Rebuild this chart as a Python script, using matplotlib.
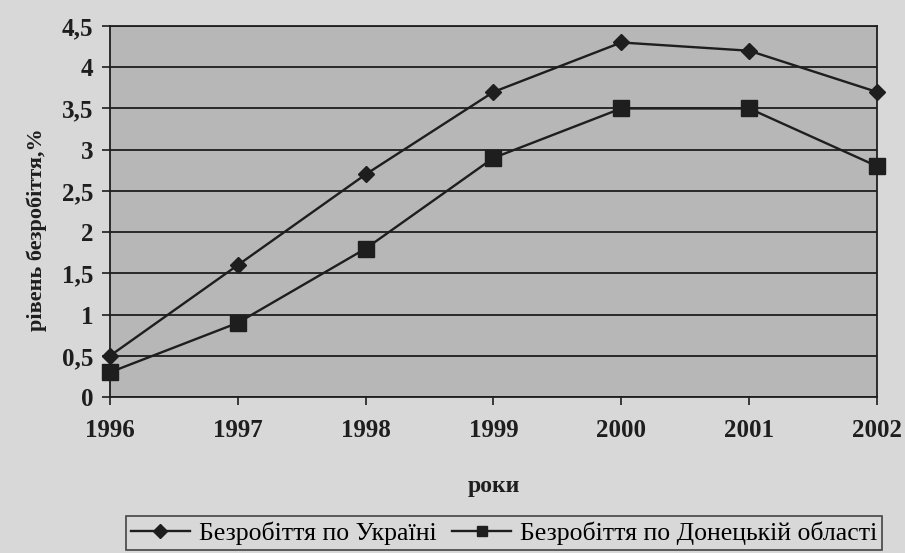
import matplotlib
matplotlib.use("Agg")
import matplotlib.pyplot as plt
from matplotlib.ticker import FuncFormatter, MultipleLocator

years = [1996, 1997, 1998, 1999, 2000, 2001, 2002]
ukraine = [0.5, 1.6, 2.7, 3.7, 4.3, 4.2, 3.7]
donetsk = [0.3, 0.9, 1.8, 2.9, 3.5, 3.5, 2.8]
labels = ["Безробіття по Україні", "Безробіття по Донецькій області"]

plt.rcParams['font.family'] = ['Liberation Serif', 'DejaVu Serif']

fig = plt.figure(figsize=(9.05, 5.53), dpi=100, facecolor='#d8d8d8')
ax = fig.add_axes([0.1215, 0.282, 0.8475, 0.671])
ax.set_facecolor('#b7b7b7')

ax.plot(years, ukraine, color='#1e1e1e', lw=1.7, marker='D', ms=8, mfc='#1e1e1e', mec='#1e1e1e', label=labels[0], clip_on=False, zorder=3)
ax.plot(years, donetsk, color='#1e1e1e', lw=1.7, marker='s', ms=11, mfc='#1e1e1e', mec='#1e1e1e', label=labels[1], clip_on=False, zorder=3)

ax.set_xlim(1996, 2002)
ax.set_ylim(0, 4.5)
ax.yaxis.set_major_locator(MultipleLocator(0.5))
ax.set_xticks(years)
ax.yaxis.set_major_formatter(FuncFormatter(lambda v, p: ('%g' % v).replace('.', ',')))
ax.grid(axis='y', color='#1e1e1e', lw=1.3)
ax.set_axisbelow(True)
for s in ax.spines.values():
    s.set_color('#1e1e1e')
    s.set_linewidth(1.3)
ax.tick_params(axis='both', colors='#1e1e1e', labelsize=18, length=6, width=1.2, direction='out')
for t in ax.get_xticklabels() + ax.get_yticklabels():
    t.set_fontweight('bold')
ax.tick_params(axis='x', pad=10)
ax.tick_params(axis='y', pad=6)

ax.set_ylabel("рівень безробіття,%", fontsize=16, fontweight='bold', color='#1e1e1e')
ax.yaxis.set_label_coords(-0.082, 0.45)
ax.set_xlabel("роки", fontsize=17, fontweight='bold', color='#1e1e1e', labelpad=24)

leg = fig.legend(loc='center', bbox_to_anchor=(0.557, 0.036), ncol=2, fontsize=18.5,
                 frameon=True, fancybox=False, edgecolor='#1e1e1e', facecolor='#d8d8d8',
                 handlelength=2.3, columnspacing=0.6, handletextpad=0.35, borderpad=0.2,
                 borderaxespad=0)
leg.get_frame().set_linewidth(1.2)
for h in leg.legend_handles:
    h.set_markersize(7)

fig.savefig("out.png", dpi=100, facecolor=fig.get_facecolor())
